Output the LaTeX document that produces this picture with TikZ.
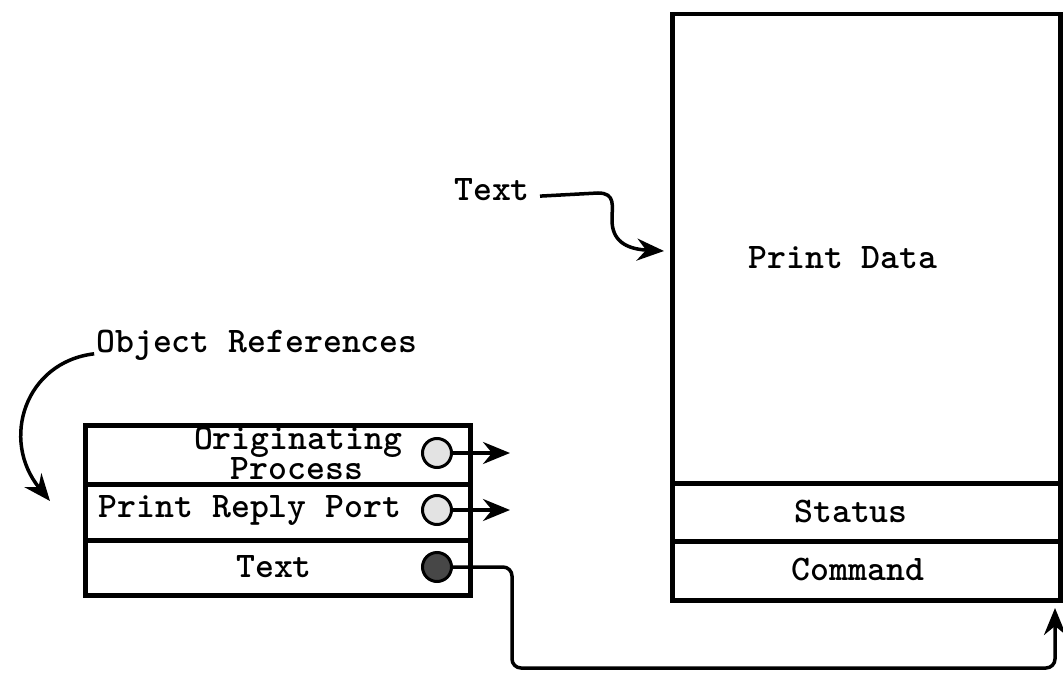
\documentclass[tikz,border=0pt]{standalone}
\usetikzlibrary{arrows.meta}
\begin{document}
\begin{tikzpicture}[x=1pt,y=-1pt,
  lbl/.style={font=\fontsize{36}{36}\selectfont\ttfamily\bfseries, inner sep=0pt, anchor=base},
  row/.style={draw, line width=4.5pt, inner sep=0pt, anchor=north west},
  ref/.style={draw, line width=3pt, circle, minimum size=29pt, inner sep=0pt},
  link/.style={line width=3.5pt, -{Stealth[length=27pt,width=22pt,inset=9pt]}},
]
\useasboundingbox (0,0) rectangle (1063,677);

% message body: three object-reference slots
\node[row, minimum width=385pt, minimum height=59pt] (orig) at (83,423) {};
\node[row, minimum width=385pt, minimum height=56pt] (reply) at (83,482) {};
\node[row, minimum width=385pt, minimum height=55pt] (txt) at (83,538) {};

\node[lbl] (origA) at (298,449) {Originating};
\node[lbl] (origB) at (297,479) {Process};
\node[lbl] (replyL) at (250,517) {Print Reply Port};
\node[lbl] (txtL) at (274,577) {Text};

% text object: data area plus status and command fields
\node[row, minimum width=388pt, minimum height=469pt] (data) at (670,12) {};
\node[row, minimum width=388pt, minimum height=58pt] (status) at (670,481) {};
\node[row, minimum width=388pt, minimum height=59pt] (command) at (670,539) {};

\node[lbl] (dataL) at (843,268) {Print Data};
\node[lbl] (statusL) at (851,522) {Status};
\node[lbl] (commandL) at (858,580) {Command};

% reference markers
\node[ref, fill=gray!22] (r1) at (437,453) {};
\node[ref, fill=gray!22] (r2) at (437,510) {};
\node[ref, fill=black!72] (r3) at (437,567) {};

\coordinate (e1) at (510,453);
\coordinate (e2) at (510,510);
\coordinate (e3) at (1055,608);

\draw[link] (r1.east) -- (e1);
\draw[link] (r2.east) -- (e2);
\draw[link, rounded corners=9pt] (r3.east) -- (512,567) -- (512,668) -- (1055,668) -- (e3);

% annotations
\node[lbl] (textTag) at (492,200) {Text};
\node[lbl] (objTag) at (257,352) {Object References};

\coordinate (dataIn) at (664,251);
\coordinate (objIn) at (50,501);

\draw[link] (textTag.east) ++(10pt,-7pt) -- (598,193)
  .. controls (616,193) and (612,206) .. (612,220)
  .. controls (612,240) and (625,249) .. (dataIn);
\draw[link] (objTag.west) ++(-2pt,-9pt) .. controls (25,362) and (0,440) .. (objIn);

\end{tikzpicture}
\end{document}
